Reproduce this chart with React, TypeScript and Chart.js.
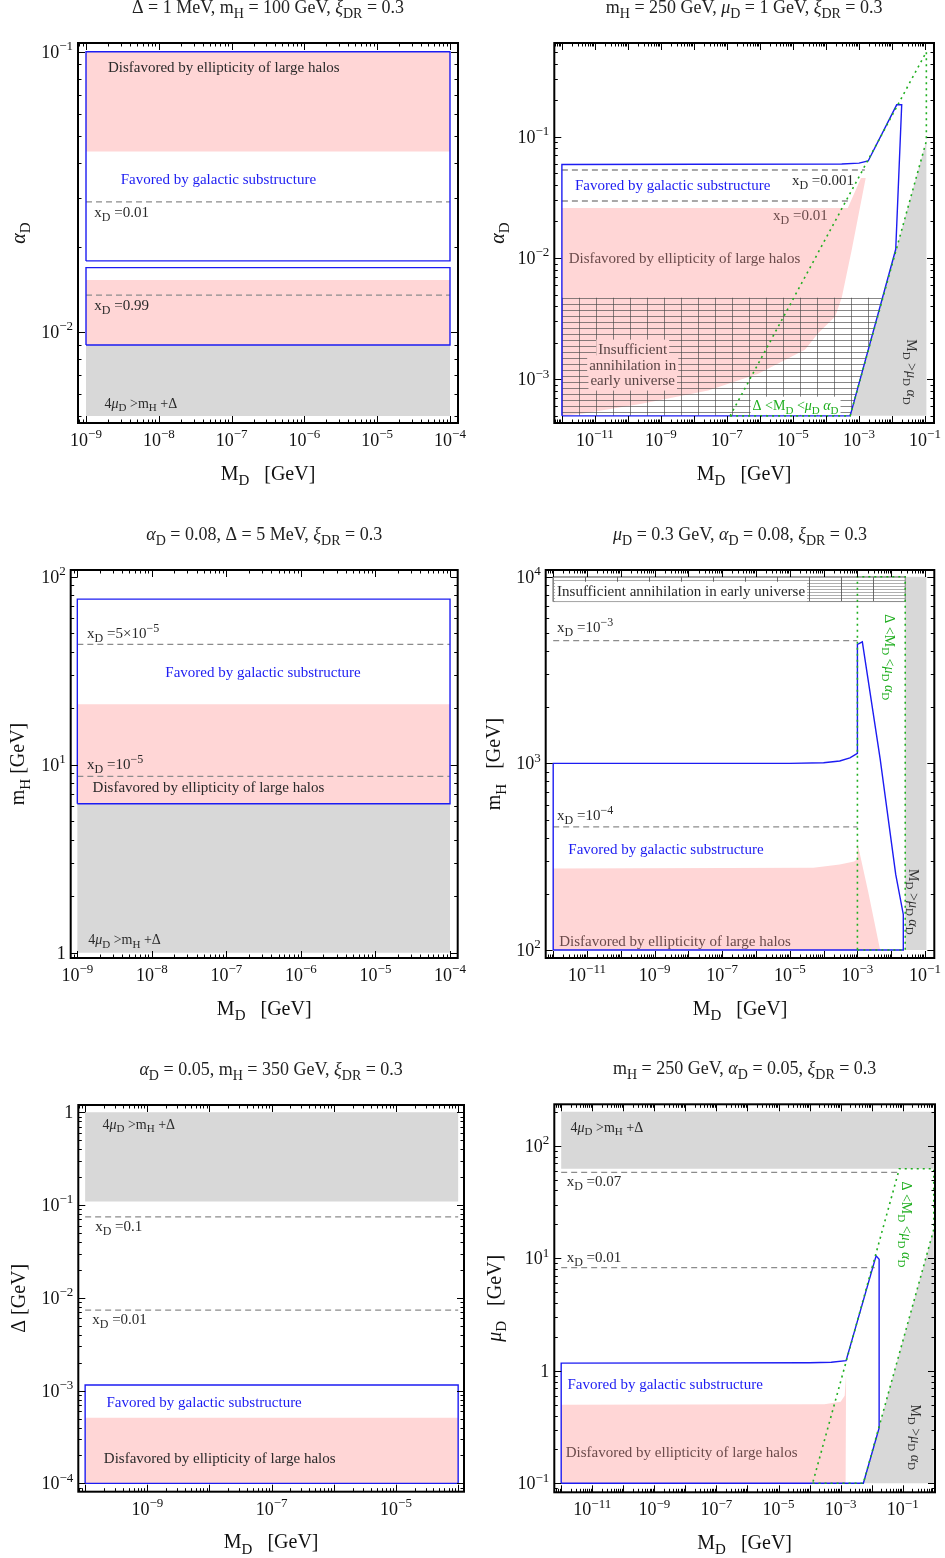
import React, { useEffect, useRef } from 'react';
import { Chart, registerables } from 'chart.js';

Chart.register(...registerables);

type Pt = [number, number];

// ---------- colours & fonts ----------
const PINK = '#ffd6d6';
const GRAY = '#d8d8d8';
const BLUE = '#1c1cf2';
const GREEN = '#1fae1f';
const DASH = '#8c8c8c';
const INK = '#2a2a2a';
const BROWN = '#6b4b4b';
const SERIF = '"Liberation Serif", "DejaVu Serif", "Times New Roman", serif';

// ---------- Panel A: Δ = 1 MeV, mH = 100 GeV (αD vs MD) ----------
const A_MD: Pt = [1e-9, 1e-4];
const A_FAVORED_HI: Pt = [0.0179, 0.1];
const A_FAVORED_LO: Pt = [0.00896, 0.01694];
const A_DISFAVORED_HI: Pt = [0.044, 0.1];
const A_DISFAVORED_LO: Pt = [0.00896, 0.01531];
const A_KINEMATIC: Pt = [0.005, 0.00896];
const A_XD = [0.0291, 0.01352]; // xD = 0.01, 0.99

// ---------- Panel B: mH = 250 GeV, μD = 1 GeV (αD vs MD) ----------
const B_FAVORED: Pt[] = [
  [1e-12, 5e-4], [1e-12, 0.059], [3e-4, 0.0595], [1e-3, 0.0605], [1.9e-3, 0.063],
  [0.0139, 0.183], [0.0197, 0.183], [0.013, 0.0118], [5.4e-4, 5e-4], [1e-12, 5e-4],
];
const B_DISFAVORED: Pt[] = [
  [1e-12, 5e-4], [1e-12, 0.0258], [4.6e-4, 0.0258], [1.15e-3, 0.0457], [1.6e-3, 0.0457],
  [6e-4, 0.0116], [3.0e-4, 4.7e-3], [1.9e-4, 3.3e-3], [5.8e-5, 2.4e-3], [2.3e-5, 1.75e-3],
  [8.9e-7, 1.11e-3], [2.7e-8, 8.1e-4], [2.6e-10, 6.3e-4], [4e-12, 5.2e-4], [1e-12, 5e-4],
];
const B_INSUFFICIENT: Pt[] = [[1e-12, 5e-4], [1e-12, 4.7e-3], [4.9e-3, 4.7e-3], [5.4e-4, 5e-4], [1e-12, 5e-4]];
const B_KINEMATIC: Pt[] = [[5.4e-4, 5e-4], [0.11, 5e-4], [0.11, 0.092], [5.4e-4, 5e-4]];
const B_WINDOW: Pt[] = [[1.25e-7, 5e-4], [5.4e-4, 5e-4], [0.11, 0.092], [0.11, 0.5], [1.25e-7, 5e-4]];
const B_XD_001: Pt[] = [[1e-12, 0.0531], [1.5e-3, 0.0531]];
const B_XD_01: Pt[] = [[1e-12, 0.0295], [4.6e-4, 0.0295]];

// ---------- Panel C: αD = 0.08, Δ = 5 MeV (mH vs MD) ----------
const C_MD: Pt = [1e-9, 1e-4];
const C_FAVORED: Pt = [6.2, 76];
const C_DISFAVORED: Pt = [6.2, 21];
const C_KINEMATIC: Pt = [1, 6.2];
const C_XD = [43.7, 8.67]; // xD = 5e-5, 1e-5

// ---------- Panel D: μD = 0.3 GeV, αD = 0.08 (mH vs MD) ----------
const D_FAVORED: Pt[] = [
  [1e-12, 100], [1e-12, 1000], [1e-5, 1000], [1e-4, 1008], [3e-4, 1030], [6e-4, 1070],
  [1e-3, 1130], [1e-3, 4340], [1.4e-3, 4480], [4.7e-3, 1060], [0.0136, 254], [0.0228, 155],
  [0.0228, 100], [1e-12, 100],
];
const D_DISFAVORED: Pt[] = [
  [1e-12, 100], [1e-12, 273], [5e-5, 276], [3e-4, 287], [8e-4, 298], [1e-3, 306],
  [1e-3, 375], [2.1e-3, 204], [4.7e-3, 100], [1e-12, 100],
];
const D_INSUFFICIENT: Pt[] = [[1e-12, 7360], [0.026, 7360], [0.026, 1e4], [1e-12, 1e4], [1e-12, 7360]];
const D_KINEMATIC: Pt[] = [[0.026, 100], [0.11, 100], [0.11, 1e4], [0.026, 1e4], [0.026, 100]];
const D_WINDOW: Pt[] = [[1e-3, 100], [0.026, 100], [0.026, 1e4], [1e-3, 1e4], [1e-3, 100]];
const D_XD_3: Pt[] = [[1e-12, 4550], [1e-3, 4550]];
const D_XD_4: Pt[] = [[1e-12, 457], [1e-3, 457]];

// ---------- Panel E: αD = 0.05, mH = 350 GeV (Δ vs MD) ----------
const E_MD: Pt = [1e-10, 1e-4];
const E_KINEMATIC: Pt = [0.109, 1];
const E_FAVORED: Pt = [1e-4, 1.15e-3];
const E_DISFAVORED: Pt = [1e-4, 5.1e-4];
const E_XD = [0.0748, 0.00736]; // xD = 0.1, 0.01

// ---------- Panel F: mH = 250 GeV, αD = 0.05 (μD vs MD) ----------
const F_KINEMATIC_TOP: Pt[] = [[1e-12, 62.5], [1, 62.5], [1, 200], [1e-12, 200], [1e-12, 62.5]];
const F_KINEMATIC_SIDE: Pt[] = [[5.4e-3, 0.1], [1, 0.1], [1, 18], [5.4e-3, 0.1]];
const F_FAVORED: Pt[] = [
  [1e-12, 0.1], [1e-12, 1.17], [1e-4, 1.18], [5e-4, 1.19], [1.5e-3, 1.23], [0.0139, 10.5],
  [0.0174, 9.8], [0.0174, 0.31], [5.4e-3, 0.1], [1e-12, 0.1],
];
const F_DISFAVORED: Pt[] = [
  [1e-12, 0.1], [1e-12, 0.5], [3e-4, 0.505], [1e-3, 0.53], [1.35e-3, 0.6], [1.5e-3, 0.92],
  [1.45e-3, 0.1], [1e-12, 0.1],
];
const F_WINDOW: Pt[] = [[1.25e-4, 0.1], [5.4e-3, 0.1], [1, 18], [1, 62.5], [0.078, 62.5], [1.25e-4, 0.1]];
const F_XD_07: Pt[] = [[1e-12, 58], [0.072, 58]];
const F_XD_01: Pt[] = [[1e-12, 8.25], [0.0125, 8.25]];

// ---------- helpers ----------
type Kind = 'pink' | 'gray' | 'hatchB' | 'hatchD' | 'hatchEdge' | 'dash' | 'blue' | 'green';
interface Layer { kind: Kind; pts: Pt[] }
interface Label { t: string; x: number; y: number; c?: string; s?: number; a?: CanvasTextAlign; r?: boolean; bg?: string }
interface Spec {
  rect: [number, number, number, number];
  frame: [number, number, number, number];
  xLog: [number, number];
  yLog: [number, number];
  xLab: number[];
  yLab: number[];
  title: string;
  xTitle: string;
  yTitle: string;
  yTitleDx: number;
  layers: Layer[];
  labels: Label[];
}

function band(x: Pt, y: Pt): Pt[] {
  return [[x[0], y[0]], [x[1], y[0]], [x[1], y[1]], [x[0], y[1]], [x[0], y[0]]];
}
function hline(x: Pt, y: number): Pt[] {
  return [[x[0], y], [x[1], y]];
}

function richRuns(s: string) {
  const out: { t: string; d: number }[] = [];
  const re = /([_^])\{([^}]*)\}/g;
  let last = 0;
  let m: RegExpExecArray | null;
  while ((m = re.exec(s))) {
    if (m.index > last) out.push({ t: s.slice(last, m.index), d: 0 });
    out.push({ t: m[2], d: m[1] === '^' ? 1 : -1 });
    last = re.lastIndex;
  }
  if (last < s.length) out.push({ t: s.slice(last), d: 0 });
  const pieces: { t: string; d: number; it: boolean }[] = [];
  for (const r of out) {
    for (const part of r.t.split(/([αμξ])/)) {
      if (part) pieces.push({ t: part, d: r.d, it: /^[αμξ]$/.test(part) });
    }
  }
  return pieces;
}

function drawRich(
  ctx: CanvasRenderingContext2D, s: string, x: number, y: number, size: number,
  color: string, align: CanvasTextAlign = 'left', bg?: string, ratio = 0.78,
) {
  const pieces = richRuns(s);
  const fontFor = (p: { d: number; it: boolean }) =>
    `${p.it ? 'italic ' : ''}${p.d ? Math.round(size * ratio) : size}px ${SERIF}`;
  let w = 0;
  const widths = pieces.map((p) => {
    ctx.font = fontFor(p);
    const ww = ctx.measureText(p.t).width;
    w += ww;
    return ww;
  });
  let cx = align === 'center' ? x - w / 2 : align === 'right' ? x - w : x;
  if (bg) {
    ctx.fillStyle = bg;
    ctx.fillRect(cx - 2, y - size * 0.62, w + 4, size * 1.3);
  }
  ctx.fillStyle = color;
  ctx.textAlign = 'left';
  ctx.textBaseline = 'alphabetic';
  const base = y + size * 0.33;
  pieces.forEach((p, i) => {
    ctx.font = fontFor(p);
    const dy = p.d === 1 ? -size * 0.42 : p.d === -1 ? size * 0.27 : 0;
    ctx.fillText(p.t, cx, base + dy);
    cx += widths[i];
  });
}

function gridPattern(w: number, h: number, hColor: string, vColor: string) {
  const c = document.createElement('canvas');
  c.width = w;
  c.height = h;
  const g = c.getContext('2d')!;
  g.lineWidth = 1;
  g.strokeStyle = hColor;
  g.beginPath();
  g.moveTo(0, 0.5);
  g.lineTo(w, 0.5);
  g.stroke();
  g.strokeStyle = vColor;
  g.beginPath();
  g.moveTo(0.5, 0);
  g.lineTo(0.5, h);
  g.stroke();
  return g.createPattern(c, 'repeat')!;
}

function anchoredPattern(w: number, h: number, hc: string, vc: string, ax: number, ay: number) {
  return (c: any) => {
    const ch = c.chart;
    const p = gridPattern(w, h, hc, vc);
    if (ch && ch.scales && ch.scales.x) {
      const ox = ch.scales.x.getPixelForValue(ax);
      const oy = ch.scales.y.getPixelForValue(ay);
      p.setTransform(new DOMMatrix().translate(Math.round(ox), Math.round(oy)));
    }
    return p;
  };
}

function toDataset(layer: Layer): any {
  const base: any = {
    data: layer.pts.map(([x, y]) => ({ x, y })),
    showLine: true,
    pointRadius: 0,
    pointHoverRadius: 0,
    pointHitRadius: 0,
    tension: 0,
    borderWidth: 0,
    fill: false,
  };
  switch (layer.kind) {
    case 'pink':
      return { ...base, fill: 'shape', backgroundColor: PINK };
    case 'gray':
      return { ...base, fill: 'shape', backgroundColor: GRAY };
    case 'hatchB':
      return {
        ...base, fill: 'shape',
        backgroundColor: anchoredPattern(17, 6, 'rgba(70,70,70,0.65)', 'rgba(70,70,70,0.65)', 1e-12, 4.7e-3),
      };
    case 'hatchD':
      return {
        ...base, fill: 'shape',
        backgroundColor: anchoredPattern(32, 3, 'rgba(110,110,110,0.55)', 'rgba(90,90,90,0.9)', 1e-12, 1e4),
      };
    case 'hatchEdge':
      return { ...base, borderColor: '#8a8a8a', borderWidth: 1 };
    case 'dash':
      return { ...base, borderColor: DASH, borderWidth: 1.3, borderDash: [6, 4] };
    case 'blue':
      return { ...base, borderColor: BLUE, borderWidth: 1.4 };
    case 'green':
      return { ...base, borderColor: GREEN, borderWidth: 1.6, borderDash: [2, 4] };
  }
}

function tickText(e: number) {
  return e === 0 ? '1' : `10^{${e < 0 ? '−' + -e : e}}`;
}

function decorPlugin(spec: Spec) {
  return {
    id: 'decor',
    afterDatasetsDraw(chart: any) {
      const { ctx, scales } = chart;
      ctx.save();
      for (const l of spec.labels) {
        const px = scales.x.getPixelForValue(l.x);
        const py = scales.y.getPixelForValue(l.y);
        const size = l.s ?? 15;
        if (l.r) {
          ctx.save();
          ctx.translate(px, py);
          ctx.rotate(Math.PI / 2);
          drawRich(ctx, l.t, 0, 0, size, l.c ?? INK, 'center', l.bg);
          ctx.restore();
        } else {
          drawRich(ctx, l.t, px, py, size, l.c ?? INK, l.a ?? 'left', l.bg);
        }
      }
      ctx.restore();
    },
    afterDraw(chart: any) {
      const { ctx, chartArea: a, scales } = chart;
      const xs = scales.x;
      const ys = scales.y;
      ctx.save();
      ctx.strokeStyle = '#000';
      ctx.lineWidth = 1;
      ctx.beginPath();
      // ticks along MD (bottom and top)
      for (let e = Math.floor(spec.xLog[0]); e <= Math.ceil(spec.xLog[1]); e++) {
        for (let m = 1; m <= 9; m++) {
          const lv = Math.log10(m) + e;
          if (lv < spec.xLog[0] || lv > spec.xLog[1]) continue;
          const px = Math.round(xs.getPixelForValue(m * 10 ** e)) + 0.5;
          const len = m === 1 ? 7 : 3.5;
          ctx.moveTo(px, a.bottom);
          ctx.lineTo(px, a.bottom - len);
          ctx.moveTo(px, a.top);
          ctx.lineTo(px, a.top + len);
        }
      }
      // ticks along the vertical quantity (left and right)
      for (let e = Math.floor(spec.yLog[0]); e <= Math.ceil(spec.yLog[1]); e++) {
        for (let m = 1; m <= 9; m++) {
          const lv = Math.log10(m) + e;
          if (lv < spec.yLog[0] || lv > spec.yLog[1]) continue;
          const py = Math.round(ys.getPixelForValue(m * 10 ** e)) + 0.5;
          const len = m === 1 ? 7 : 3.5;
          ctx.moveTo(a.left, py);
          ctx.lineTo(a.left + len, py);
          ctx.moveTo(a.right, py);
          ctx.lineTo(a.right - len, py);
        }
      }
      ctx.stroke();
      ctx.lineWidth = 2;
      ctx.strokeRect(a.left, a.top, a.right - a.left, a.bottom - a.top);

      for (const e of spec.xLab) {
        drawRich(ctx, tickText(e), xs.getPixelForValue(10 ** e), a.bottom + 17, 18, '#111', 'center', undefined, 0.72);
      }
      for (const e of spec.yLab) {
        drawRich(ctx, tickText(e), a.left - 5, ys.getPixelForValue(10 ** e), 18, '#111', 'right', undefined, 0.72);
      }
      const cx = (a.left + a.right) / 2;
      const cy = (a.top + a.bottom) / 2;
      drawRich(ctx, spec.title, cx, a.top - 36, 18, '#222', 'center', undefined, 0.75);
      drawRich(ctx, spec.xTitle, cx, a.bottom + 50, 20, '#111', 'center', undefined, 0.75);
      ctx.translate(a.left - spec.yTitleDx, cy);
      ctx.rotate(-Math.PI / 2);
      drawRich(ctx, spec.yTitle, 0, 0, 20, '#111', 'center', undefined, 0.75);
      ctx.restore();
    },
  };
}

const ODD_DECADES = [-11, -9, -7, -5, -3, -1];
const MD_TITLE = 'M_{D}   [GeV]';
const KIN_TEXT = '4μ_{D} >m_{H} +Δ';
const WINDOW_TEXT = 'Δ <M_{D} <μ_{D} α_{D}';
const ABOVE_TEXT = 'M_{D} >μ_{D} α_{D}';

const PANELS: Spec[] = [
  {
    rect: [0, 0, 472, 500],
    frame: [78, 43, 458, 423],
    xLog: [-9.11, -3.89],
    yLog: [-2.326, -0.969],
    xLab: [-9, -8, -7, -6, -5, -4],
    yLab: [-2, -1],
    title: 'Δ = 1 MeV, m_{H} = 100 GeV, ξ_{DR} = 0.3',
    xTitle: MD_TITLE,
    yTitle: 'α_{D}',
    yTitleDx: 60,
    layers: [
      { kind: 'gray', pts: band(A_MD, A_KINEMATIC) },
      { kind: 'pink', pts: band(A_MD, A_DISFAVORED_HI) },
      { kind: 'pink', pts: band(A_MD, A_DISFAVORED_LO) },
      { kind: 'dash', pts: hline(A_MD, A_XD[0]) },
      { kind: 'dash', pts: hline(A_MD, A_XD[1]) },
      { kind: 'blue', pts: band(A_MD, A_FAVORED_HI) },
      { kind: 'blue', pts: band(A_MD, A_FAVORED_LO) },
    ],
    labels: [
      { t: 'Disfavored by ellipticity of large halos', x: 2e-9, y: 0.088 },
      { t: 'Favored by galactic substructure', x: 3e-9, y: 0.035, c: BLUE },
      { t: 'x_{D} =0.01', x: 1.3e-9, y: 0.0268 },
      { t: 'x_{D} =0.99', x: 1.3e-9, y: 0.01245 },
      { t: KIN_TEXT, x: 1.8e-9, y: 0.00556, s: 14 },
    ],
  },
  {
    rect: [472, 0, 473, 500],
    frame: [554.3, 43, 934, 423],
    xLog: [-12.23, -0.727],
    yLog: [-3.36, -0.228],
    xLab: ODD_DECADES,
    yLab: [-3, -2, -1],
    title: 'm_{H} = 250 GeV, μ_{D} = 1 GeV, ξ_{DR} = 0.3',
    xTitle: MD_TITLE,
    yTitle: 'α_{D}',
    yTitleDx: 57,
    layers: [
      { kind: 'gray', pts: B_KINEMATIC },
      { kind: 'pink', pts: B_DISFAVORED },
      { kind: 'hatchB', pts: B_INSUFFICIENT },
      { kind: 'dash', pts: B_XD_001 },
      { kind: 'dash', pts: B_XD_01 },
      { kind: 'blue', pts: B_FAVORED },
      { kind: 'green', pts: B_WINDOW },
    ],
    labels: [
      { t: 'Favored by galactic substructure', x: 2.5e-12, y: 0.040, c: BLUE },
      { t: 'x_{D} =0.001', x: 9.3e-6, y: 0.044 },
      { t: 'x_{D} =0.01', x: 2.5e-6, y: 0.0226, c: BROWN },
      { t: 'Disfavored by ellipticity of large halos', x: 1.6e-12, y: 0.01, c: BROWN },
      { t: 'Insufficient', x: 1.4e-10, y: 1.78e-3, c: '#5a4646', a: 'center', bg: PINK },
      { t: 'annihilation in', x: 1.4e-10, y: 1.32e-3, c: '#5a4646', a: 'center', bg: PINK },
      { t: 'early universe', x: 1.4e-10, y: 9.8e-4, c: '#5a4646', a: 'center', bg: PINK },
      { t: WINDOW_TEXT, x: 1.2e-5, y: 6.1e-4, c: GREEN, a: 'center', bg: '#ffffff', s: 14 },
      { t: ABOVE_TEXT, x: 0.04, y: 1.15e-3, r: true, c: '#333', s: 14 },
    ],
  },
  {
    rect: [0, 505, 472, 525],
    frame: [70.7, 570, 457.7, 958],
    xLog: [-9.089, -3.897],
    yLog: [-0.028, 2.036],
    xLab: [-9, -8, -7, -6, -5, -4],
    yLab: [0, 1, 2],
    title: 'α_{D} = 0.08, Δ = 5 MeV, ξ_{DR} = 0.3',
    xTitle: MD_TITLE,
    yTitle: 'm_{H} [GeV]',
    yTitleDx: 53,
    layers: [
      { kind: 'gray', pts: band(C_MD, C_KINEMATIC) },
      { kind: 'pink', pts: band(C_MD, C_DISFAVORED) },
      { kind: 'dash', pts: hline(C_MD, C_XD[0]) },
      { kind: 'dash', pts: hline(C_MD, C_XD[1]) },
      { kind: 'blue', pts: band(C_MD, C_FAVORED) },
    ],
    labels: [
      { t: 'x_{D} =5×10^{−5}', x: 1.35e-9, y: 50 },
      { t: 'Favored by galactic substructure', x: 3.1e-7, y: 31.1, c: BLUE, a: 'center' },
      { t: 'x_{D} =10^{−5}', x: 1.35e-9, y: 10.1 },
      { t: 'Disfavored by ellipticity of large halos', x: 1.6e-9, y: 7.6 },
      { t: KIN_TEXT, x: 1.4e-9, y: 1.18, s: 14 },
    ],
  },
  {
    rect: [472, 505, 473, 525],
    frame: [545.7, 570, 934.3, 958],
    xLog: [-12.21, -0.725],
    yLog: [1.957, 4.036],
    xLab: ODD_DECADES,
    yLab: [2, 3, 4],
    title: 'μ_{D} = 0.3 GeV, α_{D} = 0.08, ξ_{DR} = 0.3',
    xTitle: MD_TITLE,
    yTitle: 'm_{H}   [GeV]',
    yTitleDx: 52,
    layers: [
      { kind: 'gray', pts: D_KINEMATIC },
      { kind: 'pink', pts: D_DISFAVORED },
      { kind: 'hatchD', pts: D_INSUFFICIENT },
      { kind: 'hatchEdge', pts: D_INSUFFICIENT },
      { kind: 'dash', pts: D_XD_3 },
      { kind: 'dash', pts: D_XD_4 },
      { kind: 'blue', pts: D_FAVORED },
      { kind: 'green', pts: D_WINDOW },
    ],
    labels: [
      { t: 'Insufficient annihilation in early universe', x: 1.3e-12, y: 8380, bg: '#ffffff' },
      { t: 'x_{D} =10^{−3}', x: 1.3e-12, y: 5370 },
      { t: 'x_{D} =10^{−4}', x: 1.3e-12, y: 528 },
      { t: 'Favored by galactic substructure', x: 2.8e-12, y: 348, c: BLUE },
      { t: 'Disfavored by ellipticity of large halos', x: 1.5e-12, y: 111, c: BROWN },
      { t: WINDOW_TEXT, x: 9.2e-3, y: 3700, r: true, c: GREEN, s: 14 },
      { t: ABOVE_TEXT, x: 0.047, y: 181, r: true, c: '#333', s: 14 },
    ],
  },
  {
    rect: [0, 1040, 472, 518],
    frame: [78.3, 1105, 464, 1491.7],
    xLog: [-10.11, -3.906],
    yLog: [-4.09, 0.079],
    xLab: [-9, -7, -5],
    yLab: [-4, -3, -2, -1, 0],
    title: 'α_{D} = 0.05, m_{H} = 350 GeV, ξ_{DR} = 0.3',
    xTitle: MD_TITLE,
    yTitle: 'Δ [GeV]',
    yTitleDx: 60,
    layers: [
      { kind: 'gray', pts: band(E_MD, E_KINEMATIC) },
      { kind: 'pink', pts: band(E_MD, E_DISFAVORED) },
      { kind: 'dash', pts: hline(E_MD, E_XD[0]) },
      { kind: 'dash', pts: hline(E_MD, E_XD[1]) },
      { kind: 'blue', pts: band(E_MD, E_FAVORED) },
    ],
    labels: [
      { t: KIN_TEXT, x: 1.9e-10, y: 0.75, s: 14 },
      { t: 'x_{D} =0.1', x: 1.45e-10, y: 0.0594 },
      { t: 'x_{D} =0.01', x: 1.3e-10, y: 0.0059 },
      { t: 'Favored by galactic substructure', x: 2.2e-10, y: 7.5e-4, c: BLUE },
      { t: 'Disfavored by ellipticity of large halos', x: 2e-10, y: 1.87e-4 },
    ],
  },
  {
    rect: [472, 1040, 473, 518],
    frame: [554.3, 1104.3, 935, 1492.3],
    xLog: [-12.2, 0.04],
    yLog: [-1.08, 2.368],
    xLab: ODD_DECADES,
    yLab: [-1, 0, 1, 2],
    title: 'm_{H} = 250 GeV, α_{D} = 0.05, ξ_{DR} = 0.3',
    xTitle: MD_TITLE,
    yTitle: 'μ_{D}   [GeV]',
    yTitleDx: 60,
    layers: [
      { kind: 'gray', pts: F_KINEMATIC_TOP },
      { kind: 'gray', pts: F_KINEMATIC_SIDE },
      { kind: 'pink', pts: F_DISFAVORED },
      { kind: 'dash', pts: F_XD_07 },
      { kind: 'dash', pts: F_XD_01 },
      { kind: 'blue', pts: F_FAVORED },
      { kind: 'green', pts: F_WINDOW },
    ],
    labels: [
      { t: KIN_TEXT, x: 2e-12, y: 147, s: 14 },
      { t: 'x_{D} =0.07', x: 1.5e-12, y: 48.5 },
      { t: 'x_{D} =0.01', x: 1.5e-12, y: 10.3 },
      { t: 'Favored by galactic substructure', x: 1.6e-12, y: 0.76, c: BLUE },
      { t: 'Disfavored by ellipticity of large halos', x: 1.4e-12, y: 0.19, c: BROWN },
      { t: WINDOW_TEXT, x: 0.135, y: 20, r: true, c: GREEN, s: 14 },
      { t: ABOVE_TEXT, x: 0.27, y: 0.257, r: true, c: '#333', s: 14 },
    ],
  },
];

function Panel({ spec }: { spec: Spec }) {
  const ref = useRef<HTMLCanvasElement>(null);
  const [cl, ct, cw, ch] = spec.rect;
  useEffect(() => {
    const canvas = ref.current;
    if (!canvas) return;
    const [fl, ft, fr, fb] = spec.frame;
    // layers are listed bottom-to-top; Chart.js paints dataset 0 last
    const datasets = spec.layers.map(toDataset).reverse();
    const chart = new Chart(canvas, {
      type: 'scatter',
      data: { datasets },
      options: {
        animation: false,
        responsive: false,
        devicePixelRatio: 1,
        events: [],
        layout: { padding: { left: fl - cl, top: ft - ct, right: cl + cw - fr, bottom: ct + ch - fb } },
        scales: {
          x: { type: 'logarithmic', display: false, min: 10 ** spec.xLog[0], max: 10 ** spec.xLog[1] },
          y: { type: 'logarithmic', display: false, min: 10 ** spec.yLog[0], max: 10 ** spec.yLog[1] },
        },
        plugins: { legend: { display: false }, tooltip: { enabled: false } },
      } as any,
      plugins: [decorPlugin(spec)],
    });
    return () => chart.destroy();
  }, [spec]);
  return (
    <canvas
      ref={ref}
      width={cw}
      height={ch}
      style={{ position: 'absolute', left: cl, top: ct, width: cw, height: ch }}
    />
  );
}

export default function App() {
  return (
    <div style={{ position: 'absolute', left: 0, top: 0, width: 945, height: 1558, background: '#fff' }}>
      {PANELS.map((p, i) => (
        <Panel key={i} spec={p} />
      ))}
    </div>
  );
}
